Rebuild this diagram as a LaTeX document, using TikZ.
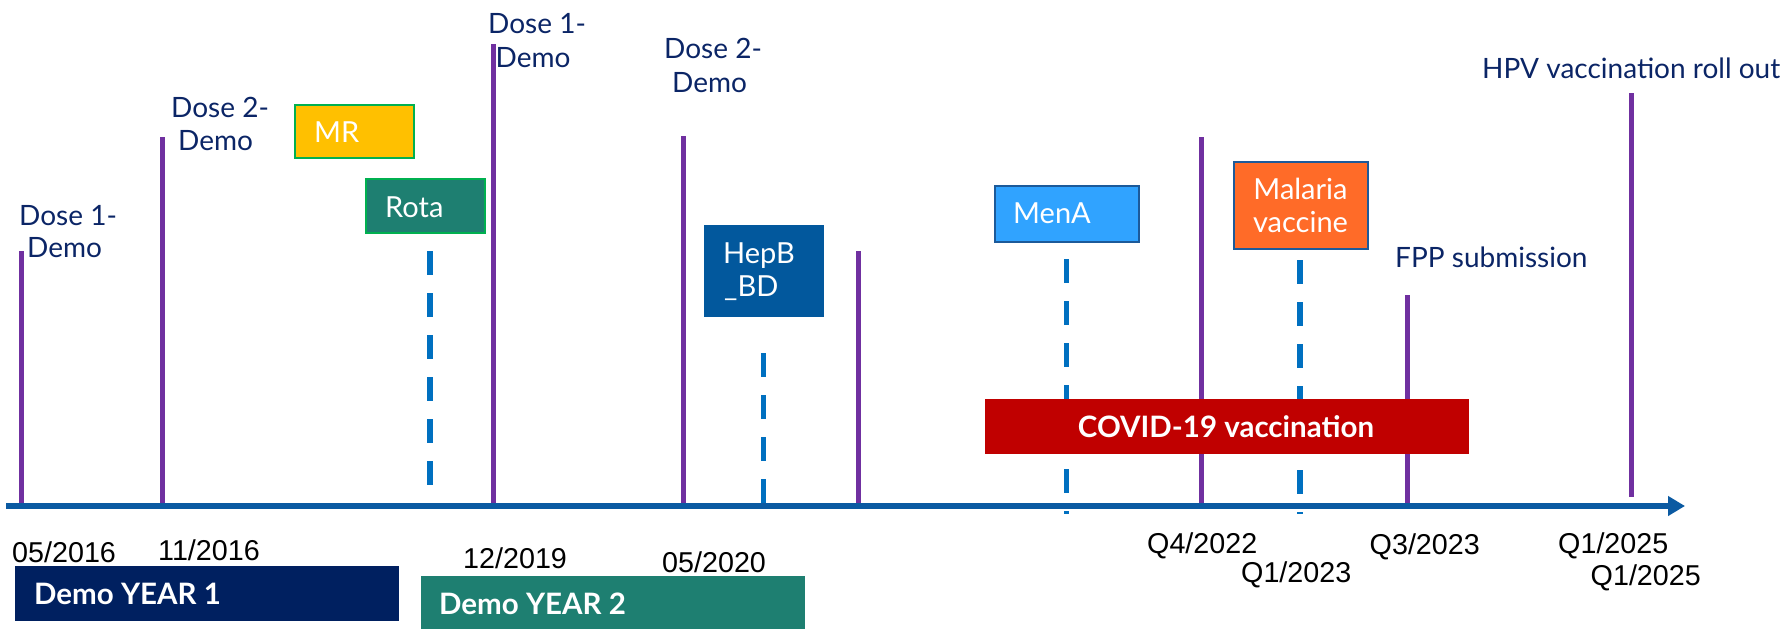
\documentclass[tikz,border=0pt]{standalone}
\usepackage{fontspec}
\setmainfont{Lato}
\newfontfamily\datefont{Liberation Sans}
\usetikzlibrary{arrows.meta}
\definecolor{navytxt}{HTML}{0B2566}
\definecolor{evpurple}{HTML}{7030A0}
\definecolor{dashblue}{HTML}{0070C0}
\definecolor{axisblue}{HTML}{0B5AA2}
\definecolor{mrgold}{HTML}{FFC000}
\definecolor{boxgreen}{HTML}{00B050}
\definecolor{tealbox}{HTML}{1E7F71}
\definecolor{hepblue}{HTML}{02589D}
\definecolor{menblue}{HTML}{30A3FF}
\definecolor{bordblue}{HTML}{1C5A9A}
\definecolor{malorange}{HTML}{FF6B28}
\definecolor{covidred}{HTML}{C00000}
\definecolor{demonavy}{HTML}{002060}
\begin{document}
\begin{tikzpicture}[x=1pt,y=-1pt,
  lbl/.style={anchor=base west, inner sep=0pt, text=navytxt, font=\fontsize{28}{33}\selectfont},
  wtxt/.style={anchor=base west, inner sep=0pt, text=white, font=\fontsize{29}{33}\selectfont},
  btxt/.style={anchor=base west, inner sep=0pt, text=white, font=\fontsize{29.5}{33}\selectfont\bfseries},
  dtxt/.style={anchor=base west, inner sep=0pt, text=black, font=\fontsize{28.7}{33}\selectfont\datefont},
  bx/.style={rectangle, inner sep=0pt, outer sep=0pt},
  evline/.style={draw=evpurple, line width=5pt},
  dashline/.style={draw=dashblue, line width=5.5pt, dash pattern=on 24pt off 18pt}]
\useasboundingbox (0,0) rectangle (1789,629);

% axis
\coordinate (axs) at (6,506);
\coordinate (axe) at (1685,506);

% event lines
\coordinate (l1t) at (21.8,251);  \coordinate (l1b) at (21.8,506);
\coordinate (l2t) at (162.3,137); \coordinate (l2b) at (162.3,506);
\coordinate (l3t) at (493,44);    \coordinate (l3b) at (493,506);
\coordinate (l4t) at (683,136);   \coordinate (l4b) at (683,506);
\coordinate (l5t) at (858,251);   \coordinate (l5b) at (858,506);
\coordinate (l6t) at (1201,137);  \coordinate (l6b) at (1201,506);
\coordinate (l7t) at (1407,295);  \coordinate (l7b) at (1407,506);
\coordinate (l8t) at (1631.5,93); \coordinate (l8b) at (1631.5,497);
\foreach \i in {1,...,8} {\draw[evline] (l\i t) -- (l\i b);}

% dashed lines
\coordinate (d1t) at (430,251);   \coordinate (d1b) at (430,508);
\coordinate (d2t) at (763.5,353); \coordinate (d2b) at (763.5,505);
\coordinate (d3t) at (1066.5,259);\coordinate (d3b) at (1066.5,514);
\coordinate (d4t) at (1300,260);  \coordinate (d4b) at (1300,514);
\foreach \i in {1,...,4} {\draw[dashline] (d\i t) -- (d\i b);}

\draw[draw=axisblue, line width=6pt, -{Triangle[length=17pt,width=19pt]}] (axs) -- (axe);

% boxes
\node[bx, fill=mrgold, draw=boxgreen, line width=2pt, minimum width=119pt, minimum height=53pt] (mr) at (354.75,131.5) {};
\node[bx, fill=tealbox, draw=boxgreen, line width=2pt, minimum width=119pt, minimum height=54pt] (rota) at (425.25,206) {};
\node[bx, fill=hepblue, minimum width=120pt, minimum height=92pt] (hepb) at (764,271) {};
\node[bx, fill=menblue, draw=bordblue, line width=2pt, minimum width=144pt, minimum height=56pt] (mena) at (1066.7,213.7) {};
\node[bx, fill=malorange, draw=bordblue, line width=2pt, minimum width=134pt, minimum height=87pt] (mal) at (1300.75,205.5) {};
\node[bx, fill=covidred, minimum width=484pt, minimum height=55pt] (covid) at (1227,426.5) {};
\node[bx, fill=demonavy, minimum width=384pt, minimum height=55pt] (y1) at (207,593.5) {};
\node[bx, fill=tealbox, minimum width=384pt, minimum height=56pt] (y2) at (613,604) {};

% box texts
\node[wtxt] (mrt) at (314,142) {MR};
\node[wtxt] (rotat) at (385,217) {Rota};
\node[wtxt] (hept1) at (723,263) {HepB};
\node[wtxt] (hept2) at (724,296) {\_BD};
\node[wtxt] (menat) at (1013,223) {MenA};
\node[anchor=base, inner sep=0pt, text=white, font=\fontsize{29}{33}\selectfont] (malt1) at (1300.5,199) {Malaria};
\node[anchor=base, inner sep=0pt, text=white, font=\fontsize{29}{33}\selectfont] (malt2) at (1300.5,232) {vaccine};
\node[anchor=base, inner sep=0pt, text=white, font=\fontsize{29.5}{33}\selectfont\bfseries] (covt) at (1226,437) {COVID-19 vaccination};
\node[btxt] (y1t) at (34,604) {Demo YEAR 1};
\node[btxt] (y2t) at (439,614) {Demo YEAR 2};

% event labels
\node[lbl] (e1a) at (19,225) {Dose 1-};
\node[lbl] (e1b) at (27,257) {Demo};
\node[lbl] (e2a) at (171,117) {Dose 2-};
\node[lbl] (e2b) at (178,150) {Demo};
\node[lbl] (e3a) at (488,33) {Dose 1-};
\node[lbl] (e3b) at (495.5,67) {Demo};
\node[lbl] (e4a) at (664,58) {Dose 2-};
\node[lbl] (e4b) at (672,92) {Demo};
\node[lbl] (e7) at (1395,267) {FPP submission};
\node[lbl] (e8) at (1482,78) {HPV vaccination roll out};

% dates
\node[dtxt] (t1) at (12,562) {05/2016};
\node[dtxt] (t2) at (158,560) {11/2016};
\node[dtxt] (t3) at (463,568) {12/2019};
\node[dtxt] (t4) at (662,572) {05/2020};
\node[dtxt] (t5) at (1147,553) {Q4/2022};
\node[dtxt] (t6) at (1241,582) {Q1/2023};
\node[dtxt] (t7) at (1369.5,554) {Q3/2023};
\node[dtxt] (t8) at (1558,553) {Q1/2025};
\node[dtxt] (t9) at (1590.5,585) {Q1/2025};
\end{tikzpicture}
\end{document}
